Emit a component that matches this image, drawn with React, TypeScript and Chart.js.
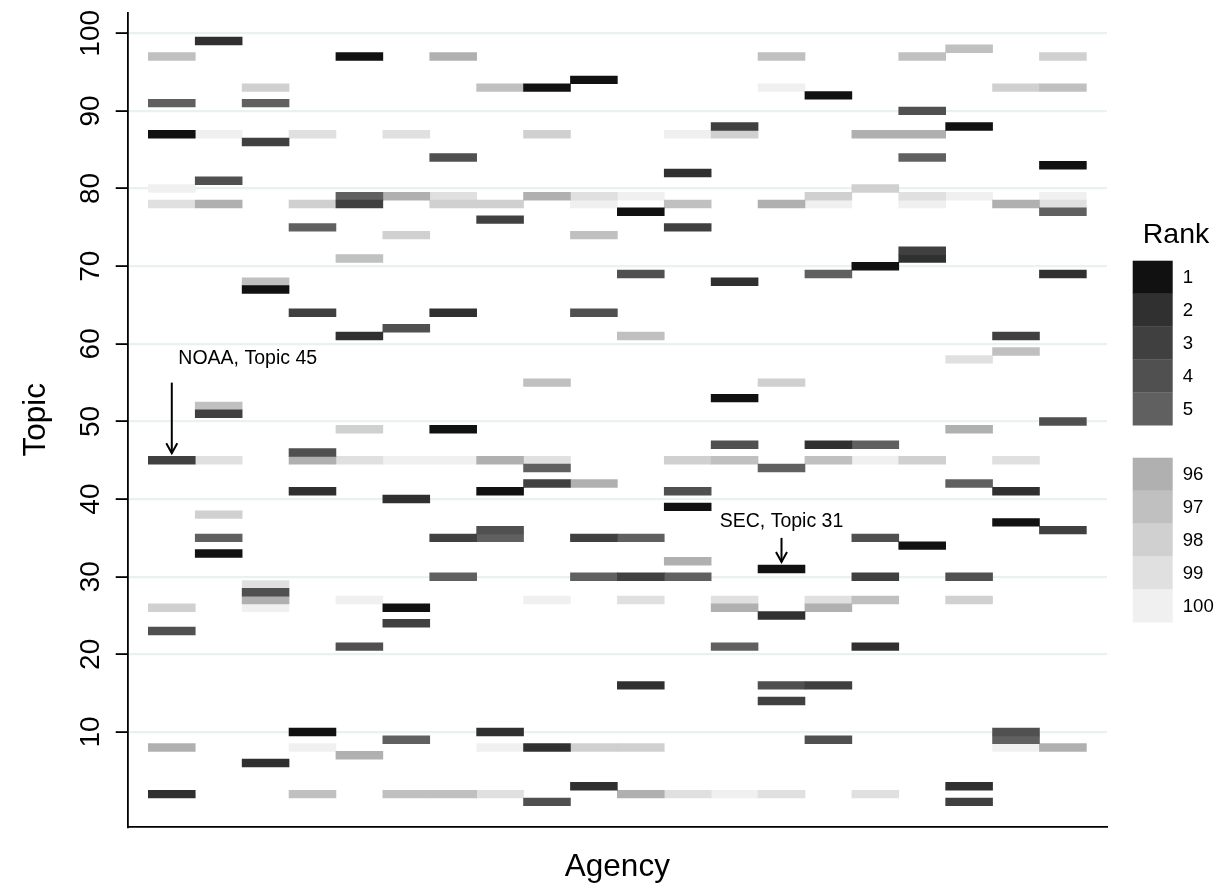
import { useEffect, useRef } from "react";
import { Chart, registerables } from "chart.js";

Chart.register(...registerables);

const FONT = "'Liberation Sans', Arial, Helvetica, sans-serif";

// Agencies (x axis categories; tick labels are not shown in the chart)
const agencies = [
  "NOAA", "Agency 2", "Agency 3", "Agency 4", "Agency 5", "Agency 6", "Agency 7",
  "Agency 8", "Agency 9", "Agency 10", "Agency 11", "Agency 12", "Agency 13", "SEC",
  "Agency 15", "Agency 16", "Agency 17", "Agency 18", "Agency 19", "Agency 20",
];

// Rank classes and their fill colours
const rankLabels = ["1", "2", "3", "4", "5", "96", "97", "98", "99", "100"];
const rankColors = [
  "#111111", "#303030", "#404040", "#505050", "#606060",
  "#b0b0b0", "#c0c0c0", "#d0d0d0", "#e0e0e0", "#f0f0f0",
];

// Topic holding each rank, one value per agency (in agency order)
const rank1Topics = [87, 33, 67, 10, 97, 26, 49, 41, 93, 94, 77, 39, 53, 31, 92, 70, 34, 88, 37, 83];
const rank2Topics = [2, 99, 6, 41, 61, 40, 64, 10, 8, 3, 16, 82, 68, 25, 47, 21, 71, 3, 41, 69];
const rank3Topics = [45, 51, 86, 64, 78, 24, 35, 76, 42, 35, 30, 75, 88, 14, 16, 30, 72, 1, 61, 36];
const rank4Topics = [23, 81, 28, 46, 21, 62, 84, 36, 1, 64, 69, 41, 47, 16, 9, 35, 90, 30, 10, 50];
const rank5Topics = [91, 35, 91, 75, 79, 9, 30, 35, 44, 30, 35, 30, 21, 44, 69, 47, 84, 42, 9, 77];
const rank96Topics = [8, 78, 27, 45, 7, 79, 97, 45, 79, 42, 2, 32, 26, 78, 26, 87, 87, 49, 78, 8];
const rank97Topics = [97, 52, 68, 2, 71, 2, 2, 93, 55, 74, 61, 78, 45, 97, 45, 27, 97, 98, 59, 93];
const rank98Topics = [26, 38, 93, 78, 49, 74, 78, 78, 87, 8, 8, 45, 87, 55, 79, 80, 45, 27, 93, 97];
const rank99Topics = [78, 45, 29, 87, 45, 87, 79, 2, 45, 79, 27, 2, 27, 2, 27, 2, 79, 58, 45, 78];
const rank100Topics = [80, 87, 26, 8, 27, 45, 45, 8, 27, 78, 79, 87, 2, 93, 78, 45, 78, 79, 8, 79];

const topicsByRank = [
  rank1Topics, rank2Topics, rank3Topics, rank4Topics, rank5Topics,
  rank96Topics, rank97Topics, rank98Topics, rank99Topics, rank100Topics,
];

// Y axis tick values
const yTickValues = [10, 20, 30, 40, 50, 60, 70, 80, 90, 100];

// Annotated tiles
const annotationAgencies = ["NOAA", "SEC"];
const annotationTopics = [45, 31];

const overlayPlugin = {
  id: "overlay",
  afterDraw(chart: any) {
    const { ctx, chartArea } = chart;
    const x = chart.scales.x;
    const y = chart.scales.y;
    ctx.save();
    ctx.fillStyle = "#000";
    ctx.strokeStyle = "#000";

    // y tick labels (rotated)
    ctx.font = `28px ${FONT}`;
    ctx.textAlign = "center";
    ctx.textBaseline = "alphabetic";
    y.ticks.forEach((t: any) => {
      const py = y.getPixelForValue(t.value);
      ctx.save();
      ctx.translate(chartArea.left - 28.5, py);
      ctx.rotate(-Math.PI / 2);
      ctx.fillText(String(t.value), 0, 0);
      ctx.restore();
    });

    // axis titles
    ctx.font = `31.5px ${FONT}`;
    ctx.textAlign = "center";
    ctx.textBaseline = "alphabetic";
    ctx.fillText("Agency", (chartArea.left + chartArea.right) / 2, 876);
    ctx.save();
    ctx.translate(45, (chartArea.top + chartArea.bottom) / 2);
    ctx.rotate(-Math.PI / 2);
    ctx.fillText("Topic", 0, 0);
    ctx.restore();

    // annotations
    const drawArrow = (px: number, yFrom: number, yTo: number) => {
      ctx.lineWidth = 2;
      ctx.beginPath();
      ctx.moveTo(px, yFrom);
      ctx.lineTo(px, yTo);
      ctx.stroke();
      ctx.beginPath();
      ctx.moveTo(px - 5.5, yTo - 10);
      ctx.lineTo(px, yTo);
      ctx.lineTo(px + 5.5, yTo - 10);
      ctx.stroke();
    };
    ctx.font = `19.5px ${FONT}`;
    annotationAgencies.forEach((name, i) => {
      const idx = agencies.indexOf(name);
      const topic = annotationTopics[i];
      const px = x.getPixelForValue(idx);
      const label = `${name}, Topic ${topic}`;
      if (i === 0) {
        ctx.textAlign = "left";
        ctx.fillText(label, x.getPixelForValue(idx + 0.14), y.getPixelForValue(topic + 12.4));
        drawArrow(px, y.getPixelForValue(topic + 10), y.getPixelForValue(topic + 0.9));
      } else {
        ctx.textAlign = "center";
        ctx.fillText(label, px, y.getPixelForValue(topic + 5.45));
        drawArrow(px, y.getPixelForValue(topic + 4), y.getPixelForValue(topic + 0.9));
      }
    });

    // legend
    ctx.font = `28.5px ${FONT}`;
    ctx.textAlign = "center";
    ctx.fillText("Rank", 1176, 242.5);
    ctx.font = `18.6px ${FONT}`;
    ctx.textAlign = "left";
    ctx.textBaseline = "middle";
    const keyH = 32.9;
    rankLabels.forEach((lab, i) => {
      const group = i < 5 ? 0 : 1;
      const top = (group === 0 ? 260.7 : 457.7) + (i % 5) * keyH;
      ctx.fillStyle = rankColors[i];
      ctx.fillRect(1132.7, top, 40, keyH + 0.3);
      ctx.fillStyle = "#000";
      ctx.fillText(lab, 1182.7, top + keyH / 2 + 1);
    });
    ctx.restore();
  },
};

export default function App() {
  const canvasRef = useRef<HTMLCanvasElement | null>(null);

  useEffect(() => {
    if (!canvasRef.current) return;
    const chart = new Chart(canvasRef.current, {
      type: "bar",
      data: {
        datasets: rankLabels.map((label, r) => ({
          label,
          data: topicsByRank[r].map((t, i) => ({ x: i, y: [t - 0.5, t + 0.5] })),
          backgroundColor: rankColors[r],
          borderWidth: 0,
          barPercentage: 1,
          categoryPercentage: 1,
          grouped: false,
        })) as any,
      },
      options: {
        responsive: false,
        animation: false,
        layout: { padding: { top: 12.7, right: 115, bottom: 0, left: 0 } },
        plugins: { legend: { display: false }, tooltip: { enabled: false } },
        scales: {
          x: {
            type: "linear",
            offset: false,
            min: -0.94,
            max: 19.94,
            ticks: { display: false },
            grid: { display: false, drawTicks: false, offset: false },
            border: { display: true, color: "#000", width: 1.8 },
            afterFit: (s: any) => { s.height = 63.3; },
          },
          y: {
            type: "linear",
            offset: false,
            min: -2.2,
            max: 102.65,
            afterBuildTicks: (s: any) => { s.ticks = yTickValues.map((v) => ({ value: v })); },
            ticks: { display: false },
            grid: {
              color: "#e9f1f2",
              lineWidth: 2.2,
              drawTicks: true,
              tickLength: 12,
              tickColor: "#000",
              tickWidth: 1.8,
            },
            border: { display: true, color: "#000", width: 1.8 },
            afterFit: (s: any) => { s.width = 127.7; },
          },
        },
      } as any,
      plugins: [overlayPlugin],
    });
    return () => chart.destroy();
  }, []);

  return (
    <div style={{ position: "fixed", left: 0, top: 0, width: 1222, height: 890, background: "#fff" }}>
      <canvas ref={canvasRef} width={1222} height={890} style={{ display: "block" }} />
    </div>
  );
}
